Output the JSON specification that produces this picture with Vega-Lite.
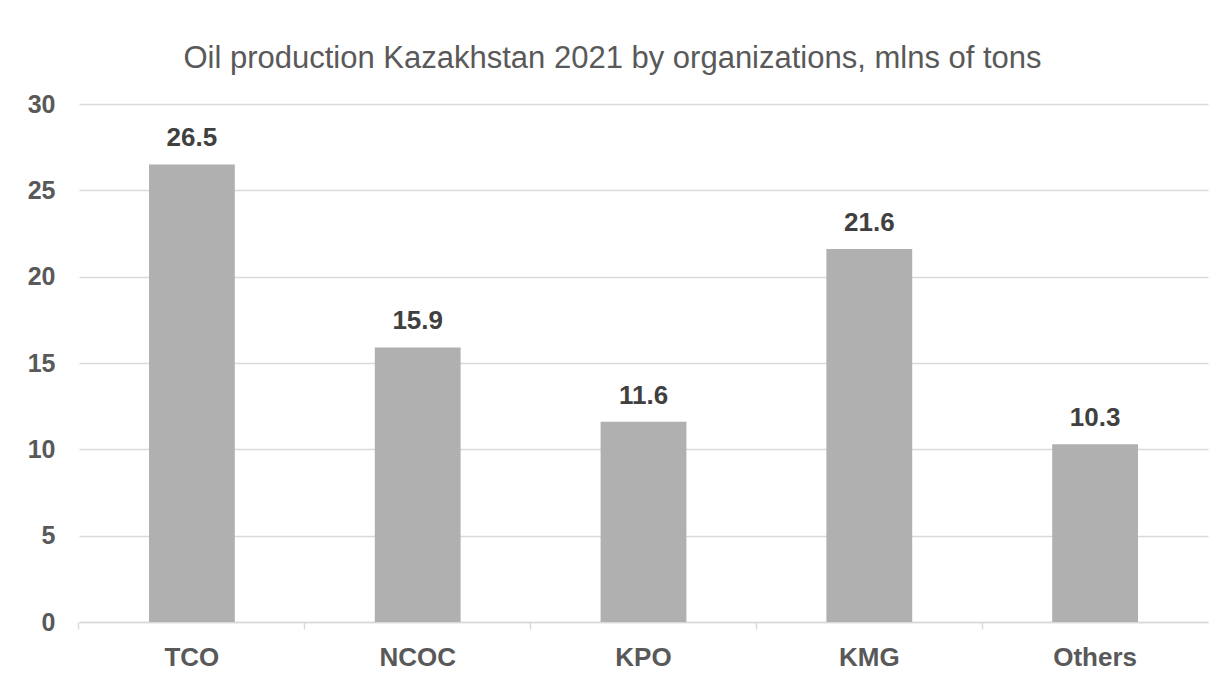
{
  "$schema": "https://vega.github.io/schema/vega-lite/v6.json",
  "width": 1129,
  "height": 518,
  "autosize": {"type": "none"},
  "padding": {"left": 79, "top": 104, "right": 19, "bottom": 58},
  "background": "white",
  "title": {
    "text": "Oil production Kazakhstan 2021 by organizations, mlns of tons",
    "font": "Liberation Sans",
    "fontSize": 31,
    "fontWeight": "normal",
    "color": "#595959",
    "anchor": "middle",
    "baseline": "alphabetic",
    "dx": -31,
    "dy": 46,
    "offset": 39
  },
  "data": {
    "values": [
      {"org": "TCO", "value": 26.5},
      {"org": "NCOC", "value": 15.9},
      {"org": "KPO", "value": 11.6},
      {"org": "KMG", "value": 21.6},
      {"org": "Others", "value": 10.3}
    ]
  },
  "config": {
    "view": {"stroke": null},
    "font": "Liberation Sans"
  },
  "encoding": {
    "x": {
      "field": "org",
      "type": "nominal",
      "sort": null,
      "scale": {"paddingInner": 0.62, "paddingOuter": 0.31}
    },
    "y": {
      "field": "value",
      "type": "quantitative",
      "scale": {"domain": [0, 30]},
      "axis": {
        "title": null,
        "values": [0, 5, 10, 15, 20, 25, 30],
        "grid": true,
        "gridColor": "#d9d9d9",
        "gridWidth": 1.5,
        "domain": false,
        "ticks": false,
        "labelFont": "Liberation Sans",
        "labelFontSize": 25,
        "labelFontWeight": "bold",
        "labelColor": "#595959",
        "labelPadding": 24
      }
    }
  },
  "layer": [
    {
      "mark": {"type": "bar", "color": "#b0b0b0"},
      "encoding": {
        "x": {
          "field": "org",
          "type": "nominal",
          "sort": null,
          "axis": {
            "orient": "bottom",
            "title": null,
            "labels": false,
            "domainColor": "#d9d9d9",
            "domainWidth": 1.5,
            "tickColor": "#d9d9d9",
            "tickWidth": 1.5,
            "tickSize": 7,
            "bandPosition": -0.816,
            "grid": false
          }
        }
      }
    },
    {
      "mark": {
        "type": "text",
        "dy": -18,
        "font": "Liberation Sans",
        "fontSize": 26,
        "fontWeight": "bold",
        "color": "#404040",
        "baseline": "alphabetic"
      },
      "encoding": {
        "text": {"field": "value", "type": "quantitative", "format": ".1f"},
        "x": {
          "field": "org",
          "type": "nominal",
          "sort": null,
          "axis": {
            "orient": "bottom",
            "title": null,
            "domain": false,
            "ticks": false,
            "grid": false,
            "labelFont": "Liberation Sans",
            "labelFontSize": 26,
            "labelFontWeight": "bold",
            "labelColor": "#595959",
            "labelPadding": 22,
            "labelAngle": 0
          }
        }
      }
    }
  ],
  "resolve": {"axis": {"x": "independent"}}
}
